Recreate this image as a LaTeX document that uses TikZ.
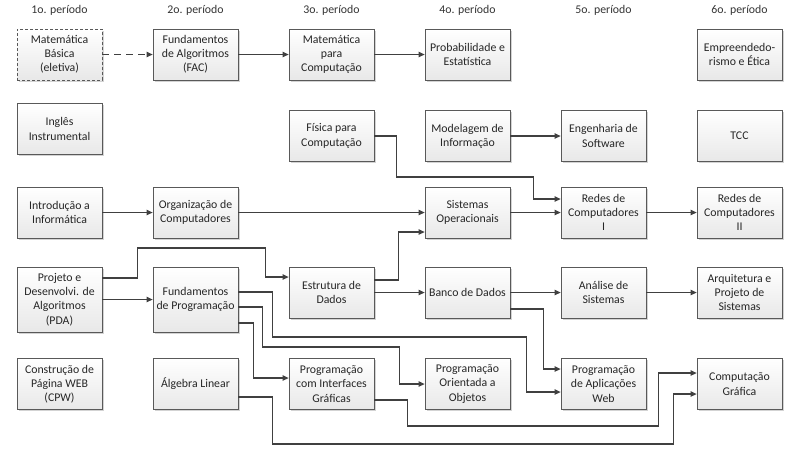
\documentclass[tikz,border=0pt]{standalone}
\usepackage{fontspec}
\setmainfont{Carlito}
\usetikzlibrary{arrows.meta,shadows}

\begin{document}
\begin{tikzpicture}[x=1pt,y=-1pt,->,>={Triangle[length=6pt,width=5.5pt]},
	font=\fontsize{11.8}{14.2}\selectfont, node distance=136pt,
	materia/.style={draw=black!65, line width=0.8pt, top color=white, bottom color=black!9,
		drop shadow={shadow xshift=1.6pt, shadow yshift=-1.6pt, opacity=0.35},
		minimum width=85pt, minimum height=51pt, align=center, inner sep=2pt, text=black!85},
	eletiva/.style={materia, dash pattern=on 3pt off 2pt},
	periodo/.style={text=black!80},
	seta/.style={draw=black!75, line width=1.1pt},
	every edge/.style={seta}]
			\useasboundingbox (0,0) rectangle (800,448);
			% 1o. linha
			\node[eletiva] (11) at (59.5,54.5) {Matemática\\Básica\\(eletiva)};
			\node[materia] (21) [right of=11] {Fundamentos\\de Algoritmos\\(FAC)};
			\node[materia] (31) [right of=21] {Matemática\\para\\Computação};
			\node[materia] (41) [right of=31] {Probabilidade e\\Estatística};
			\node[materia] (61) [right of=41, node distance=272pt] {Empreendedo-\\rismo e Ética};
			% periodos
			\node[periodo] (p1) [above of=11, node distance=44.5pt] {1o. período};
			\node[periodo] (p2) [above of=21, node distance=44.5pt] {2o. período};
			\node[periodo] (p3) [above of=31, node distance=44.5pt] {3o. período};
			\node[periodo] (p4) [above of=41, node distance=44.5pt] {4o. período};
			\node[periodo] (p5) [right of=p4] {5o. período};
			\node[periodo] (p6) [above of=61, node distance=44.5pt] {6o. período};
			% 2o. linha
			\node[materia] (12) [below of=11, node distance=74.5pt] {Inglês\\Instrumental};
			\node[materia] (32) [below of=31, node distance=81.5pt] {Física para\\Computação};
			\node[materia] (42) [right of=32] {Modelagem de\\Informação};
			\node[materia] (52) [right of=42] {Engenharia de\\Software};
			\node[materia] (62) [right of=52] {TCC};
			% 3o. linha
			\node[materia] (13) [below of=12, node distance=83.5pt] {Introdução a\\Informática};
			\node[materia] (23) [right of=13] {Organização de\\Computadores};
			\node[materia] (43) [right of=23, node distance=272pt] {Sistemas\\Operacionais};
			\node[materia] (53) [right of=43] {Redes de\\Computadores\\I};
			\node[materia] (63) [right of=53] {Redes de\\Computadores\\II};
			% 4o. linha
			\node[materia, minimum height=65pt] (14) [below of=13, node distance=87pt] {Projeto e\\Desenvolvi. de\\Algoritmos\\(PDA)};
			\node[materia, minimum height=65pt] (24) [right of=14] {Fundamentos\\de Programação};
			\node[materia] (34) [right of=24, yshift=7pt] {Estrutura de\\Dados};
			\node[materia] (44) [right of=34] {Banco de Dados};
			\node[materia] (54) [right of=44] {Análise de\\Sistemas};
			\node[materia] (64) [right of=54] {Arquitetura e\\Projeto de\\Sistemas};
			% 5o. linha
			\node[materia] (15) [below of=14, node distance=84.5pt] {Construção de\\Página WEB\\(CPW)};
			\node[materia] (25) [right of=15] {Álgebra Linear};
			\node[materia] (35) [right of=25] {Programação\\com Interfaces\\Gráficas};
			\node[materia] (45) [right of=35] {Programação\\Orientada a\\Objetos};
			\node[materia] (55) [right of=45] {Programação\\de Aplicações\\Web};
			\node[materia] (65) [right of=55] {Computação\\Gráfica};
			\path
			(11) edge[dash pattern=on 7pt off 5pt] (21)
			(21) edge (31)
			(31) edge (41)
			(42) edge (52)
			(13) edge (23)
			(23) edge (43)
			(43) edge (53)
			(53) edge (63)
			(14) edge (24)
			(34) edge (44)
			(44) edge (54)
			(54) edge (64);
			\draw[seta] (32.east) -- ++(22.5,0) |- ++(137,41) |- ([yshift=13.5pt]53.west);
			\draw[seta] ([yshift=12.5pt]34.east) -- ++(24.5,0) |- ([yshift=-19.5pt]43.west);
			\draw[seta] ([yshift=21.5pt]14.east) -- ++(35,0) |- ++(128,-30) |- ([yshift=15.5pt]34.west);
			\draw[seta] ([yshift=7.5pt]24.east) -- ++(34,0) |- ++(254,45) |- ([yshift=-8pt]55.west);
			\draw[seta] ([yshift=-7.5pt]24.east) -- ++(24,0) |- ++(137,40) |- (45.west);
			\draw[seta] ([yshift=-23.5pt]24.east) -- ++(15,0) |- ([yshift=6pt]35.west);
			\draw[seta] ([yshift=-16.5pt]44.east) -- ++(33.5,0) |- ([yshift=15pt]55.west);
			\draw[seta] ([yshift=-16pt]35.east) -- ++(33.5,0) |- ++(251,26) |- ([yshift=11pt]65.west);
			\draw[seta] ([yshift=-13pt]25.east) -- ++(34,0) |- ++(401,47) |- ([yshift=-10pt]65.west);
		\end{tikzpicture}
\end{document}
